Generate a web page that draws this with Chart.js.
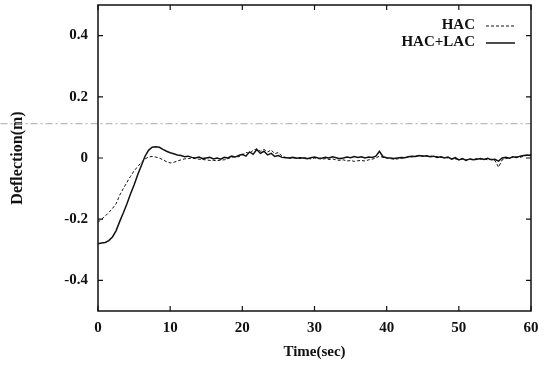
<!DOCTYPE html>
<html>
<head>
<meta charset="utf-8">
<script src="https://cdn.jsdelivr.net/npm/chart.js@4/dist/chart.umd.min.js"></script>
<style>
  html, body { margin: 0; padding: 0; background: #fff; }
  #wrap { width: 549px; height: 371px; }
</style>
</head>
<body>
<div id="wrap"><canvas id="c" width="549" height="371"></canvas></div>
<script>
// sample times (sec), every 0.5 s from 0 to 60
const timeSec = Array.from({ length: 121 }, (_, i) => i / 2);

// HAC (dashed)
const hac = [
  -0.210, -0.200, -0.190, -0.178, -0.165, -0.150, -0.122, -0.100, -0.080, -0.060,
  -0.042, -0.028, -0.015, -0.003, 0.003, 0.005, 0.003, 0.000, -0.006, -0.012,
  -0.016, -0.014, -0.010, -0.006, -0.003, -0.002, 0.000, -0.002, -0.004, -0.005,
  -0.006, -0.008, -0.008, -0.009, -0.007, -0.006, -0.002, 0.002, 0.005, 0.004,
  0.010, 0.018, 0.015, 0.025, 0.030, 0.022, 0.028, 0.020, 0.026, 0.014,
  0.018, 0.006, 0.002,
  0.000, -0.001, 0.001, -0.002, 0.000, -0.001, -0.003, 0.000, -0.002, -0.004,
  -0.002, -0.005, -0.003, -0.006, -0.008, -0.006, -0.010, -0.008, -0.011, -0.009,
  -0.008, -0.010, -0.006,
  -0.004, 0.000, 0.006, 0.002, 0.000, -0.002, -0.004, -0.003, -0.001, 0.001,
  0.003, 0.004, 0.006, 0.007, 0.008, 0.006, 0.007, 0.004, 0.005, 0.002,
  0.003, 0.000, -0.002, -0.003, -0.005, -0.004, -0.006, -0.003, -0.005, -0.002,
  -0.004, -0.003, -0.006, -0.004, -0.008, -0.030, -0.006, -0.002, 0.000, 0.003,
  0.004, 0.002, 0.006, 0.009, 0.012
];

// HAC+LAC (solid)
const hacLac = [
  -0.280, -0.278, -0.276, -0.270, -0.258, -0.238, -0.208, -0.180, -0.150, -0.118,
  -0.088, -0.055, -0.025, 0.005, 0.025, 0.035, 0.037, 0.035, 0.028, 0.022,
  0.017, 0.014, 0.010, 0.008, 0.004, 0.006, 0.002, 0.000, 0.003, -0.002,
  0.000, 0.002, -0.003, 0.000, -0.004, 0.002, 0.000, 0.006, 0.003, 0.008,
  0.012, 0.006, 0.020, 0.012, 0.028, 0.015, 0.022, 0.010, 0.015, 0.005,
  0.008, 0.002, 0.001,
  0.000, 0.002, -0.001, 0.001, 0.000, -0.002, 0.001, 0.003, 0.000, -0.001,
  0.002, 0.000, 0.004, 0.001, -0.002, 0.000, 0.003, 0.001, 0.005, 0.002,
  0.004, 0.000, 0.003,
  0.002, 0.006, 0.022, 0.004, 0.001, 0.000, -0.002, 0.000, 0.002, 0.001,
  0.004, 0.006, 0.005, 0.008, 0.006, 0.007, 0.004, 0.006, 0.002, 0.004,
  0.000, 0.003, -0.004, 0.001, -0.006, -0.002, -0.008, -0.003, -0.006, -0.004,
  -0.002, -0.005, -0.001, -0.006, -0.004, -0.010, 0.000, 0.002, -0.001, 0.004,
  0.002, 0.006, 0.008, 0.010, 0.008
];

// faint scan line across the page
const scanLineX = [-13.5, 60];
const scanLineY = [0.112, 0.112];

const xTicks = [0, 10, 20, 30, 40, 50, 60];
const yTicks = [-0.4, -0.2, 0, 0.2, 0.4];

const serif = "'Liberation Serif', 'DejaVu Serif', serif";
const ink = '#111';

const toPoints = (xs, ys) => xs.map((x, i) => ({ x, y: ys[i] }));

// box + inward ticks on all four sides
const frame = {
  id: 'frame',
  afterDraw(chart) {
    const { ctx, chartArea: a, scales: { x, y } } = chart;
    ctx.save();
    ctx.strokeStyle = ink;
    ctx.lineWidth = 1.5;
    ctx.strokeRect(a.left, a.top, a.right - a.left, a.bottom - a.top);
    ctx.lineWidth = 1.2;
    ctx.beginPath();
    xTicks.forEach(v => {
      const px = x.getPixelForValue(v);
      ctx.moveTo(px, a.bottom); ctx.lineTo(px, a.bottom - 5);
      ctx.moveTo(px, a.top); ctx.lineTo(px, a.top + 5);
    });
    yTicks.forEach(v => {
      const py = y.getPixelForValue(v);
      ctx.moveTo(a.left, py); ctx.lineTo(a.left + 5, py);
      ctx.moveTo(a.right, py); ctx.lineTo(a.right - 5, py);
    });
    ctx.stroke();
    ctx.restore();
  }
};

// legend: label right-aligned, line sample to its right
const legendBox = {
  id: 'legendBox',
  afterDraw(chart) {
    const { ctx, chartArea: a } = chart;
    const items = chart.data.datasets.filter(d => d.showInLegend);
    ctx.save();
    ctx.font = `bold 15px ${serif}`;
    ctx.textAlign = 'right';
    ctx.textBaseline = 'middle';
    items.forEach((d, i) => {
      const yy = a.top + 20 + i * 17;
      const xr = a.right - 56;
      ctx.fillStyle = ink;
      ctx.fillText(d.label, xr, yy);
      ctx.strokeStyle = d.borderColor;
      ctx.lineWidth = d.borderWidth;
      ctx.setLineDash(d.borderDash || []);
      ctx.beginPath();
      ctx.moveTo(xr + 11, yy + 1);
      ctx.lineTo(xr + 40, yy + 1);
      ctx.stroke();
    });
    ctx.restore();
  }
};

new Chart(document.getElementById('c'), {
  type: 'line',
  data: {
    datasets: [
      {
        label: 'HAC',
        showInLegend: true,
        data: toPoints(timeSec, hac),
        borderColor: ink,
        borderWidth: 1,
        borderDash: [3, 2],
        pointRadius: 0,
        tension: 0
      },
      {
        label: 'HAC+LAC',
        showInLegend: true,
        data: toPoints(timeSec, hacLac),
        borderColor: ink,
        borderWidth: 1.5,
        pointRadius: 0,
        tension: 0
      },
      {
        label: 'scan',
        data: toPoints(scanLineX, scanLineY),
        borderColor: '#aaaaaa',
        borderWidth: 1,
        borderDash: [7, 3, 2, 3],
        pointRadius: 0,
        clip: false
      }
    ]
  },
  options: {
    responsive: false,
    animation: false,
    layout: { padding: { top: 5, right: 18, left: 0, bottom: 0 } },
    plugins: { legend: { display: false }, tooltip: { enabled: false } },
    scales: {
      x: {
        type: 'linear',
        min: 0, max: 60,
        afterBuildTicks: s => { s.ticks = xTicks.map(v => ({ value: v })); },
        afterFit: s => { s.height = 60; s.paddingLeft = 0; s.paddingRight = 0; },
        grid: { display: false, drawTicks: false },
        border: { display: false },
        ticks: { color: ink, padding: 8, maxRotation: 0, font: { family: serif, size: 15, weight: 'bold' } },
        title: {
          display: true, text: 'Time(sec)', color: ink,
          font: { family: serif, size: 15, weight: 'bold' },
          padding: { top: 0, bottom: 10 }
        }
      },
      y: {
        min: -0.5, max: 0.5,
        afterBuildTicks: s => { s.ticks = yTicks.map(v => ({ value: v })); },
        afterFit: s => { s.width = 98; s.paddingTop = 0; s.paddingBottom = 0; },
        grid: { display: false, drawTicks: false },
        border: { display: false },
        ticks: {
          color: ink, padding: 10,
          font: { family: serif, size: 15, weight: 'bold' },
          callback: v => (v === 0 ? '0' : v.toFixed(1))
        },
        title: {
          display: true, text: 'Deflection(m)', color: ink,
          font: { family: serif, size: 16, weight: 'bold' },
          padding: { top: 8, bottom: 0 }
        }
      }
    }
  },
  plugins: [frame, legendBox]
});
</script>
</body>
</html>
